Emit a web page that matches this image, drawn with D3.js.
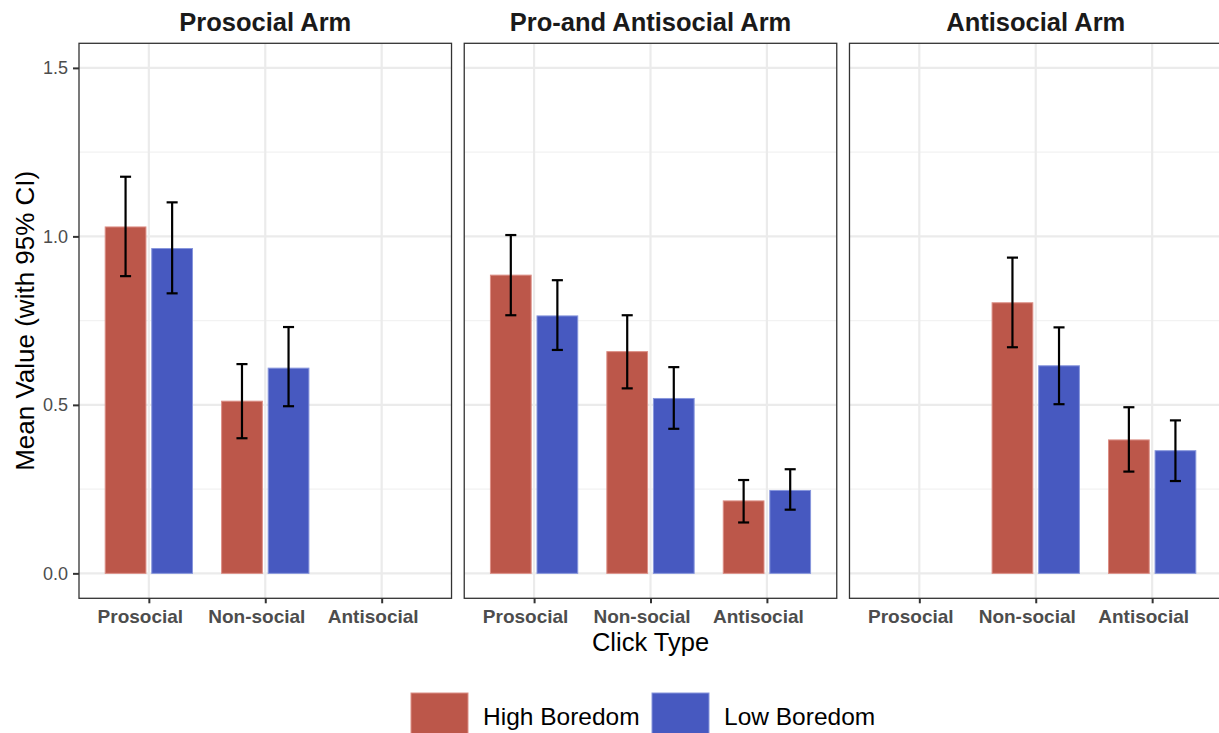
<!DOCTYPE html>
<html>
<head>
<meta charset="utf-8">
<script src="https://cdn.jsdelivr.net/npm/d3@7"></script>
<style>
  body { margin: 0; background: #fff; }
  svg { display: block; font-family: "Liberation Sans", Arial, sans-serif; }
</style>
</head>
<body>
<div id="chart"></div>
<script>
// facet panels, categories, groups
var arms = ["Prosocial Arm", "Pro-and Antisocial Arm", "Antisocial Arm"];
var clickTypes = ["Prosocial", "Non-social", "Antisocial"];
var groups = ["High Boredom", "Low Boredom"];
var groupColors = ["#bc574a", "#4759c0"];
var groupStrokes = ["#dc8f86", "#8796dc"];
var yTicks = [0, 0.5, 1.0, 1.5];
var yMinor = [0.25, 0.75, 1.25];

// means and 95% CI per arm, in clickTypes order (null = not in that arm)
var highMean  = [[1.028, 0.511, null], [0.885, 0.658, 0.215], [null, 0.803, 0.396]];
var highLower = [[0.882, 0.401, null], [0.766, 0.549, 0.151], [null, 0.671, 0.302]];
var highUpper = [[1.177, 0.621, null], [1.004, 0.766, 0.277], [null, 0.937, 0.493]];
var lowMean   = [[0.964, 0.609, null], [0.764, 0.519, 0.246], [null, 0.616, 0.364]];
var lowLower  = [[0.831, 0.496, null], [0.663, 0.429, 0.189], [null, 0.502, 0.274]];
var lowUpper  = [[1.101, 0.731, null], [0.870, 0.612, 0.309], [null, 0.730, 0.454]];

var width = 1219,
    height = 733;
var panelTop = 43.3,
    panelBottom = 598.3;

var svg = d3.select("#chart").append("svg")
  .attr("width", width)
  .attr("height", height);

var panelScale = d3.scaleBand()
  .domain(arms)
  .range([79, 1222])
  .paddingInner(0.033);

var y = d3.scaleLinear()
  .domain([-0.074, 1.573])
  .range([panelBottom, panelTop]);

var x = d3.scaleLinear()
  .domain([0.4, 3.6])
  .range([0, panelScale.bandwidth()]);

var dodge = 0.2,
    barWidth = 0.35,
    whisker = 0.095;

// flatten rows for drawing
function rowsFor(a) {
  var rows = [];
  clickTypes.forEach(function(c, i) {
    if (highMean[a][i] != null) {
      rows.push({ cat: i + 1, g: 0, mean: highMean[a][i], lo: highLower[a][i], hi: highUpper[a][i] });
      rows.push({ cat: i + 1, g: 1, mean: lowMean[a][i], lo: lowLower[a][i], hi: lowUpper[a][i] });
    }
  });
  return rows;
}

function centerOf(d) { return x(d.cat + (d.g === 0 ? -dodge : dodge)); }

arms.forEach(function(arm, a) {
  var g = svg.append("g")
    .attr("transform", "translate(" + panelScale(arm) + ",0)");
  var pw = panelScale.bandwidth();

  g.append("rect")
    .attr("x", 0).attr("y", panelTop)
    .attr("width", pw).attr("height", panelBottom - panelTop)
    .attr("fill", "#fff");

  // grid
  g.selectAll("line.minor").data(yMinor).enter().append("line")
    .attr("x1", 0).attr("x2", pw)
    .attr("y1", function(d) { return y(d); })
    .attr("y2", function(d) { return y(d); })
    .attr("stroke", "#f2f2f2").attr("stroke-width", 1.1);
  g.selectAll("line.major").data(yTicks).enter().append("line")
    .attr("x1", 0).attr("x2", pw)
    .attr("y1", function(d) { return y(d); })
    .attr("y2", function(d) { return y(d); })
    .attr("stroke", "#ebebeb").attr("stroke-width", 2.2);
  g.selectAll("line.vmajor").data([1, 2, 3]).enter().append("line")
    .attr("x1", function(d) { return x(d); })
    .attr("x2", function(d) { return x(d); })
    .attr("y1", panelTop).attr("y2", panelBottom)
    .attr("stroke", "#ebebeb").attr("stroke-width", 2.2);

  var rows = rowsFor(a);

  // bars
  g.selectAll("rect.bar").data(rows).enter().append("rect")
    .attr("class", "bar")
    .attr("x", function(d) { return x(d.cat + (d.g === 0 ? -dodge : dodge) - barWidth / 2); })
    .attr("width", x(barWidth) - x(0))
    .attr("y", function(d) { return y(d.mean); })
    .attr("height", function(d) { return y(0) - y(d.mean); })
    .attr("fill", function(d) { return groupColors[d.g]; })
    .attr("stroke", function(d) { return groupStrokes[d.g]; })
    .attr("stroke-width", 1);

  // error bars
  var halfW = (x(whisker) - x(0)) / 2;
  var eb = g.selectAll("g.err").data(rows).enter().append("g")
    .attr("stroke", "#000").attr("stroke-width", 2.2);
  eb.append("line")
    .attr("x1", centerOf).attr("x2", centerOf)
    .attr("y1", function(d) { return y(d.lo); })
    .attr("y2", function(d) { return y(d.hi); });
  ["lo", "hi"].forEach(function(k) {
    eb.append("line")
      .attr("x1", function(d) { return centerOf(d) - halfW; })
      .attr("x2", function(d) { return centerOf(d) + halfW; })
      .attr("y1", function(d) { return y(d[k]); })
      .attr("y2", function(d) { return y(d[k]); });
  });

  // border
  g.append("rect")
    .attr("x", 0).attr("y", panelTop)
    .attr("width", pw).attr("height", panelBottom - panelTop)
    .attr("fill", "none").attr("stroke", "#333").attr("stroke-width", 1.3);

  // strip title
  g.append("text")
    .attr("x", pw / 2).attr("y", 31)
    .attr("text-anchor", "middle")
    .attr("font-size", 25.5).attr("font-weight", "bold")
    .attr("fill", "#1a1a1a")
    .text(arm);

  // x axis
  var xAxis = g.append("g")
    .attr("transform", "translate(0," + panelBottom + ")")
    .call(d3.axisBottom(x).tickValues([1, 2, 3])
      .tickFormat(function(d) { return clickTypes[d - 1]; })
      .tickSize(5).tickPadding(6));
  xAxis.select(".domain").remove();
  xAxis.selectAll(".tick line").attr("stroke", "#333").attr("stroke-width", 2);
  xAxis.selectAll(".tick text")
    .attr("dx", -9)
    .attr("font-size", 19).attr("font-weight", "bold")
    .attr("fill", "#4d4d4d").attr("font-family", "Liberation Sans, Arial, sans-serif");

  if (a === 0) {
    var yAxis = g.append("g")
      .call(d3.axisLeft(y).tickValues(yTicks)
        .tickFormat(d3.format(".1f"))
        .tickSize(6).tickPadding(5));
    yAxis.select(".domain").remove();
    yAxis.selectAll(".tick line").attr("stroke", "#333").attr("stroke-width", 2);
    yAxis.selectAll(".tick text")
      .attr("font-size", 18).attr("fill", "#4d4d4d")
      .attr("font-family", "Liberation Sans, Arial, sans-serif");
  }
});

// axis titles
svg.append("text")
  .attr("x", panelScale(arms[1]) + panelScale.bandwidth() / 2)
  .attr("y", 651)
  .attr("text-anchor", "middle")
  .attr("font-size", 25.5)
  .attr("fill", "#000")
  .text("Click Type");

svg.append("text")
  .attr("transform", "translate(34," + ((panelTop + panelBottom) / 2) + ") rotate(-90)")
  .attr("text-anchor", "middle")
  .attr("font-size", 26)
  .attr("fill", "#000")
  .text("Mean Value (with 95% CI)");

// legend
var legendX = [411, 652];
var legend = svg.selectAll("g.legend").data(groups).enter().append("g")
  .attr("transform", function(d, i) { return "translate(" + legendX[i] + ",693)"; });
legend.append("rect")
  .attr("width", 57).attr("height", 57)
  .attr("fill", function(d, i) { return groupColors[i]; })
  .attr("stroke", function(d, i) { return groupStrokes[i]; })
  .attr("stroke-width", 1);
legend.append("text")
  .attr("x", 72).attr("y", 32)
  .attr("font-size", 24.5)
  .attr("fill", "#000")
  .text(function(d) { return d; });
</script>
</body>
</html>
